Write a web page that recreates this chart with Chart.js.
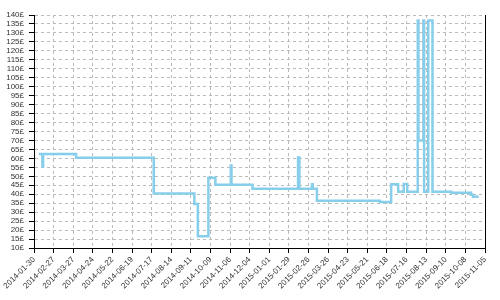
<!DOCTYPE html>
<html>
<head>
<meta charset="utf-8">
<script src="https://cdn.jsdelivr.net/npm/chart.js@4"></script>
<style>
  html, body { margin: 0; padding: 0; background: #fff; }
  #wrap { width: 500px; height: 300px; }
</style>
</head>
<body>
<div id="wrap"><canvas id="mychart"></canvas></div>
<script>
// price history (date of change -> new price)
var changeDates = ['2014-02-06', '2014-02-11', '2014-02-12', '2014-03-31', '2014-07-20',
    '2014-09-16', '2014-09-21', '2014-10-06', '2014-10-16', '2014-11-07', '2014-11-08',
    '2014-12-08', '2015-02-11', '2015-02-13', '2015-03-03', '2015-03-04', '2015-03-10',
    '2015-06-08', '2015-06-24', '2015-07-04', '2015-07-12', '2015-07-17', '2015-08-01',
    '2015-08-02', '2015-08-09', '2015-08-10', '2015-08-16', '2015-08-22', '2015-09-18',
    '2015-10-16', '2015-10-19', '2015-10-27'];
var prices = [62.5, 55.5, 62.5, 60.3, 40.4,
    34.5, 16.5, 49.2, 45.3, 56, 45.3,
    43, 60.5, 43, 45.5, 43, 36.4,
    35.6, 45.6, 41.4, 45.7, 41.4, 137,
    70, 137, 41.4, 137, 41.4, 40.8,
    39.7, 38.6, 38.6];

var axisStart = '2014-01-30';
var axisEnd = '2015-11-05';
var tickDays = 28;
var yMin = 10, yMax = 140, yStep = 5;

var DAY = 86400000;
var t0 = Date.parse(axisStart);
function toDay(s) { return Math.round((Date.parse(s) - t0) / DAY); }
function toDate(d) { return new Date(t0 + d * DAY).toISOString().slice(0, 10); }

var points = [];
for (var i = 0; i < changeDates.length; i++) {
    points.push({ x: toDay(changeDates[i]), y: prices[i] });
}

var font = { family: 'Liberation Sans, Arial, sans-serif', size: 8 };

const ctr = document.getElementById('mychart');
new Chart(ctr, {
    type: 'line',
    data: {
        datasets: [{
            data: points,
            stepped: true,
            borderColor: '#87ceeb',
            borderWidth: 2.5,
            pointRadius: 0,
            fill: false
        }]
    },
    options: {
        responsive: true,
        maintainAspectRatio: false,
        animation: false,
        layout: { padding: { top: 15, right: 15, left: 0, bottom: 0 } },
        plugins: { legend: { display: false }, tooltip: { enabled: false } },
        scales: {
            x: {
                type: 'linear',
                min: 0,
                max: toDay(axisEnd),
                afterFit: function (s) { s.height = 52; },
                ticks: {
                    stepSize: tickDays,
                    autoSkip: false,
                    minRotation: 45,
                    maxRotation: 45,
                    padding: 2,
                    color: '#333',
                    font: font,
                    callback: function (v) { return toDate(v); }
                },
                grid: { color: '#bbb', tickColor: '#000', tickLength: 5, tickBorderDash: [] },
                border: { color: '#000', dash: [3, 3] }
            },
            y: {
                min: yMin,
                max: yMax,
                afterFit: function (s) { s.width = 34; },
                ticks: {
                    stepSize: yStep,
                    autoSkip: false,
                    color: '#333',
                    font: font,
                    padding: 5,
                    callback: function (v) { return v + '£'; }
                },
                grid: { color: '#bbb', tickColor: '#000', tickLength: 5, tickBorderDash: [] },
                border: { color: '#000', dash: [3, 3] }
            },
            y2: {
                position: 'right',
                min: yMin,
                max: yMax,
                ticks: { display: false },
                grid: { display: false, drawTicks: false },
                border: { color: '#000', width: 1 }
            }
        }
    }
});
</script>
</body>
</html>
